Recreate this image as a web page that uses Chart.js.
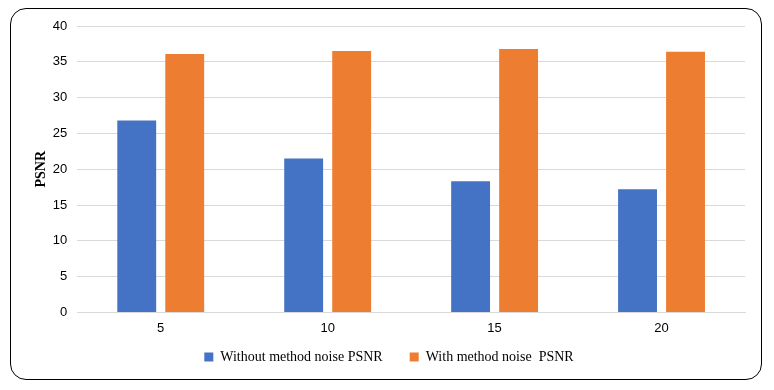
<!DOCTYPE html>
<html>
<head>
<meta charset="utf-8">
<script src="https://cdn.jsdelivr.net/npm/chart.js@4.4.0/dist/chart.umd.min.js"></script>
<style>
  html, body { margin: 0; padding: 0; background: #fff; }
  #wrap { position: relative; width: 774px; height: 390px; }
  #frame {
    position: absolute; left: 10px; top: 8px; width: 750px; height: 370px;
    border: 1.5px solid #000; border-radius: 16px; pointer-events: none;
  }
  canvas { position: absolute; left: 0; top: 0; }
</style>
</head>
<body>
<div id="wrap">
  <canvas id="psnrChart" width="774" height="390"></canvas>
  <div id="frame"></div>
</div>
<script>
// Noise levels on the x axis
const categories = ['5', '10', '15', '20'];
const withoutMethod = [26.8, 21.5, 18.3, 17.2];
const withMethod = [36.1, 36.5, 36.8, 36.4];
const yTicks = [0, 5, 10, 15, 20, 25, 30, 35, 40];

const ctx = document.getElementById('psnrChart').getContext('2d');

new Chart(ctx, {
    type: 'bar',
    data: {
        labels: categories,
        datasets: [{
            label: 'Without method noise PSNR',
            data: withoutMethod,
            backgroundColor: '#4472c4',
            barPercentage: 0.81,
            categoryPercentage: 0.575
        }, {
            label: 'With method noise  PSNR',
            data: withMethod,
            backgroundColor: '#ed7d31',
            barPercentage: 0.81,
            categoryPercentage: 0.575
        }]
    },
    options: {
        responsive: false,
        animation: false,
        layout: { padding: { left: 33, right: 29, top: 26, bottom: 16 } },
        scales: {
            x: {
                grid: { display: false, drawTicks: false },
                border: { color: '#d9d9d9' },
                ticks: { color: '#000', padding: 8, font: { family: 'Liberation Sans', size: 13 } }
            },
            y: {
                min: 0,
                max: 40,
                afterBuildTicks: axis => { axis.ticks = yTicks.map(v => ({ value: v })); },
                grid: { color: '#d9d9d9', drawTicks: false },
                border: { display: false },
                ticks: { color: '#000', padding: 10, font: { family: 'Liberation Sans', size: 13 } },
                title: {
                    display: true,
                    text: 'PSNR',
                    color: '#000',
                    padding: { top: 0, bottom: -7 },
                    font: { family: 'Liberation Serif', size: 14, weight: 'bold' }
                }
            }
        },
        plugins: {
            legend: {
                position: 'bottom',
                labels: {
                    boxWidth: 9,
                    boxHeight: 9,
                    padding: 6,
                    color: '#000',
                    font: { family: 'Liberation Serif', size: 14 },
                    // widen the gap between the two entries
                    generateLabels: chart => {
                        const items = Chart.defaults.plugins.legend.labels.generateLabels(chart);
                        items[0].text += '      ';
                        return items;
                    }
                }
            },
            tooltip: { enabled: false }
        }
    }
});
</script>
</body>
</html>
